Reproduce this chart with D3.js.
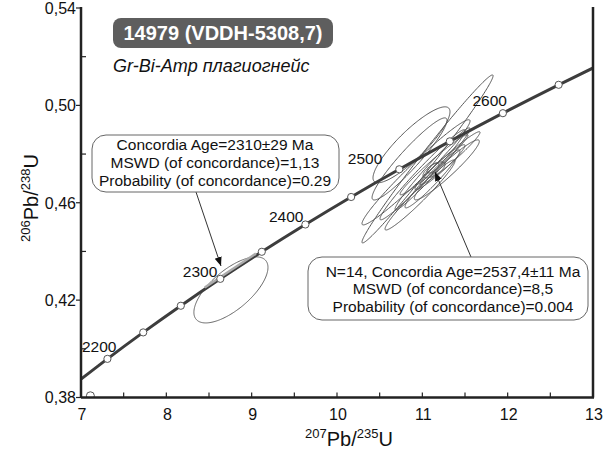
<!DOCTYPE html>
<html><head><meta charset="utf-8">
<script src="https://cdn.jsdelivr.net/npm/d3@7"></script>
<style>
html,body{margin:0;padding:0;background:#fff;}
text{font-family:"Liberation Sans",Arial,sans-serif;}
</style></head>
<body><svg id="chart" width="609" height="455"></svg>
<script>
// ---- data ----
const concAges = [2100,2150,2200,2250,2300,2350,2400,2450,2500,2550,2600,2650,2700];
const concX = [6.9105,7.3097,7.7292,8.1699,8.6326,9.1188,9.6296,10.1659,10.7300,11.3222,11.9440,12.5974,13.2834];
const concY = [0.38509,0.39587,0.40674,0.41769,0.42874,0.43986,0.45107,0.46237,0.47375,0.48523,0.49679,0.50845,0.52020];
const markerAges = [2150,2200,2250,2300,2350,2400,2450,2500,2550,2600,2650];
const labelAges = [2200,2300,2400,2500,2600];
const extraMarkerX = [7.11];
const extraMarkerY = [0.3807];

// 14 analyses (207/235, 206/238, errors, rho)
const ellX   = [11.061,10.873,10.850,10.926,11.002,11.119,11.137,11.207,11.137,11.119,10.973,11.324,11.125,11.287];
const ellSX  = [0.768,0.451,0.439,0.633,0.498,0.439,0.398,0.293,0.129,0.322,0.410,0.352,0.070,0.381];
const ellY   = [0.4780,0.4838,0.4780,0.4725,0.4715,0.4739,0.4756,0.4746,0.4735,0.4698,0.4632,0.4783,0.4743,0.4735];
const ellSY  = [0.0345,0.0156,0.01686,0.0216,0.0185,0.01686,0.01233,0.00925,0.00329,0.01192,0.01439,0.01089,0.00206,0.01233];
const ellRho = [0.99,0.87,0.94,0.975,0.978,0.98,0.978,0.962,0.68,0.962,0.97,0.974,0.66,0.952];

// single analysis at 2310 Ma
const oneX = [8.757], oneSX = [0.434], oneY = [0.4242], oneSY = [0.01357], oneRho = [0.68];
// concordia-age segment (2310 Ma)
const ageSegX = [8.45, 9.05];
const ageSegY = [0.4252, 0.4391];

const xTicks = [7,8,9,10,11,12,13];
const yTicks = [0.38,0.42,0.46,0.50,0.54];
const xMinor = [7.5,8.5,9.5,10.5,11.5,12.5];
const yMinor = [0.40,0.44,0.48,0.52];

const titleText = "14979 (VDDH-5308,7)";
const subtitleText = "Gr-Bi-Amp плагиогнейс";
const box1Lines = ["Concordia Age=2310\u00b129 Ma","MSWD (of concordance)=1,13","Probability (of concordance)=0.29"];
const box2Lines = ["N=14, Concordia Age=2537,4\u00b111 Ma","MSWD (of concordance)=8,5","Probability (of concordance)=0.004"];

// ---- layout ----
const L = 81, R = 593, T = 8, B = 397.5;
const svg = d3.select("#chart");
const x = d3.scaleLinear().domain([7,13]).range([L,R]);
const y = d3.scaleLinear().domain([0.38,0.54]).range([B,T]);
const fmt = d => d3.format(".2f")(d).replace(".", ",");

svg.append("defs").append("clipPath").attr("id","plotclip")
  .append("rect").attr("x",L).attr("y",T).attr("width",R-L).attr("height",B-T);
const defs = svg.select("defs");
defs.append("marker").attr("id","arrow").attr("viewBox","0 0 10 10")
  .attr("refX",10).attr("refY",5).attr("markerWidth",9).attr("markerHeight",9)
  .attr("markerUnits","userSpaceOnUse").attr("orient","auto")
  .append("path").attr("d","M0,1 L10,5 L0,9 Z").attr("fill","#111");

const plot = svg.append("g").attr("clip-path","url(#plotclip)");

function ellipsePts(cx,sx,cy,sy,rho){
  const pts=[]; const s=Math.sqrt(1-rho*rho);
  for(let i=0;i<200;i++){const t=i/200*2*Math.PI;
    pts.push([x(cx+sx*Math.cos(t)), y(cy+sy*(rho*Math.cos(t)+s*Math.sin(t)))]);}
  return pts;
}
const closed = d3.line().curve(d3.curveLinearClosed);

// single ellipse
plot.append("path").attr("d",closed(ellipsePts(oneX[0],oneSX[0],oneY[0],oneSY[0],oneRho[0])))
  .attr("fill","none").attr("stroke","#666").attr("stroke-width",1);
// cluster
ellX.forEach((cx,i)=>{
  plot.append("path").attr("d",closed(ellipsePts(cx,ellSX[i],ellY[i],ellSY[i],ellRho[i])))
    .attr("fill","none").attr("stroke","#555").attr("stroke-width",1);
});

// extra marker (partly under axis)
plot.selectAll("circle.extra").data(extraMarkerX).enter().append("circle")
  .attr("cx",(d)=>x(d)).attr("cy",(d,i)=>y(extraMarkerY[i])).attr("r",4)
  .attr("fill","#fff").attr("stroke","#555").attr("stroke-width",1);

// concordia
const concPts = concX.map((v,i)=>[x(v),y(concY[i])]);
plot.append("path").attr("d",d3.line().curve(d3.curveNatural)(concPts))
  .attr("fill","none").attr("stroke","#3d3d3d").attr("stroke-width",3);
// concordia age highlight
plot.append("path").attr("d",d3.line()(ageSegX.map((v,i)=>[x(v),y(ageSegY[i])])))
  .attr("fill","none").attr("stroke","#aaa").attr("stroke-width",2.5);

markerAges.forEach(a=>{
  const i = concAges.indexOf(a);
  plot.append("circle").attr("cx",x(concX[i])).attr("cy",y(concY[i])).attr("r",3.6)
    .attr("fill","#fff").attr("stroke","#555").attr("stroke-width",1);
});
const labelAnchor = {2200:2150,2300:2300,2400:2400,2500:2500,2600:2600};
const labelOffsets = {2200:[9,-12],2300:[-3,-7],2400:[-2,-8],2500:[-17,-11],2600:[4,-13]};
labelAges.forEach(a=>{
  const i = concAges.indexOf(labelAnchor[a]);
  svg.append("text").attr("x",x(concX[i])+labelOffsets[a][0]).attr("y",y(concY[i])+labelOffsets[a][1])
    .attr("text-anchor","end").attr("dy","0.35em").attr("font-size",15.5).attr("fill","#111").text(a);
});

// axes
const ax = svg.append("g").attr("stroke","#222");
ax.append("line").attr("x1",L).attr("x2",L).attr("y1",T-1).attr("y2",B).attr("stroke-width",2.5);
ax.append("line").attr("x1",R).attr("x2",R).attr("y1",T-1).attr("y2",B).attr("stroke-width",2.5);
ax.append("line").attr("x1",L).attr("x2",R+1).attr("y1",B).attr("y2",B).attr("stroke-width",2.5);
xTicks.concat(xMinor).forEach(v=>{
  if(v>7 && v<13) ax.append("line").attr("x1",x(v)).attr("x2",x(v)).attr("y1",B).attr("y2",B-5).attr("stroke-width",1.2);
});
yTicks.forEach(v=>{ ax.append("line").attr("x1",L-5).attr("x2",L).attr("y1",y(v)).attr("y2",y(v)).attr("stroke-width",1.2); });
yMinor.forEach(v=>{ ax.append("line").attr("x1",L).attr("x2",L+5).attr("y1",y(v)).attr("y2",y(v)).attr("stroke-width",1.2); });
xTicks.forEach(v=>{
  svg.append("text").attr("x",x(v)+1).attr("y",420).attr("text-anchor","middle")
    .attr("font-size",16).attr("fill","#111").text(v);
});
yTicks.forEach(v=>{
  svg.append("text").attr("x",76).attr("y",y(v)).attr("dy","0.36em").attr("text-anchor","end")
    .attr("font-size",16).attr("fill","#111").text(fmt(v));
});

// axis titles
const xt = svg.append("text").attr("x",349).attr("y",446).attr("text-anchor","middle").attr("fill","#111");
xt.append("tspan").attr("font-size",13).attr("dy",-8).text("207");
xt.append("tspan").attr("font-size",20).attr("dy",8).text("Pb/");
xt.append("tspan").attr("font-size",13).attr("dy",-8).text("235");
xt.append("tspan").attr("font-size",20).attr("dy",8).text("U");
const yt = svg.append("text").attr("transform","translate(38,198) rotate(-90)").attr("text-anchor","middle").attr("fill","#111");
yt.append("tspan").attr("font-size",13).attr("dy",-8).text("206");
yt.append("tspan").attr("font-size",20).attr("dy",8).text("Pb/");
yt.append("tspan").attr("font-size",13).attr("dy",-8).text("238");
yt.append("tspan").attr("font-size",20).attr("dy",8).text("U");

// title box
svg.append("rect").attr("x",113).attr("y",18).attr("width",220).attr("height",30).attr("rx",8)
  .attr("fill","#5e5e5e");
svg.append("text").attr("x",223).attr("y",40).attr("text-anchor","middle").attr("font-size",20)
  .attr("font-weight","bold").attr("fill","#fff").text(titleText);
svg.append("text").attr("x",113).attr("y",72).attr("font-size",18).attr("font-style","italic")
  .attr("fill","#111").text(subtitleText);

// callout boxes
function callout(bx,by,bw,bh,lines,cx,ys){
  svg.append("rect").attr("x",bx).attr("y",by).attr("width",bw).attr("height",bh).attr("rx",14)
    .attr("fill","#fff").attr("stroke","#666").attr("stroke-width",1);
  lines.forEach((t,i)=>svg.append("text").attr("x",cx).attr("y",ys[i]).attr("dy","0.35em")
    .attr("text-anchor","middle").attr("font-size",15.5).attr("fill","#111").text(t));
}
svg.append("line").attr("x1",196).attr("y1",192).attr("x2",221).attr("y2",266)
  .attr("stroke","#333").attr("stroke-width",1).attr("marker-end","url(#arrow)");
svg.append("line").attr("x1",471).attr("y1",257).attr("x2",435).attr("y2",172)
  .attr("stroke","#333").attr("stroke-width",1).attr("marker-end","url(#arrow)");
callout(92,135,247,57,box1Lines,215,[145,163,181]);
callout(308,257,280,63,box2Lines,453,[272,289,307]);
</script></body></html>
